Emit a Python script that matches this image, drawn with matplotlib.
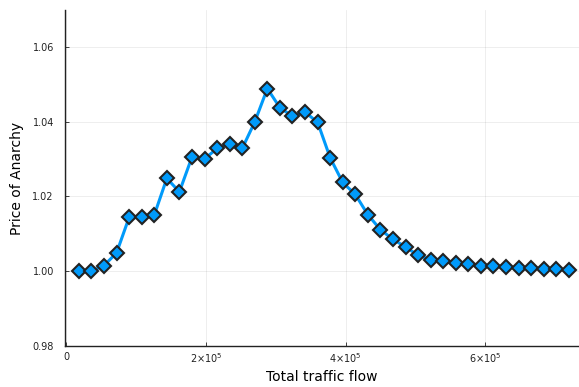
import matplotlib
matplotlib.use("Agg")
import matplotlib.pyplot as plt

# Data
flow = [18000 * k for k in range(1, 41)]
poa = [1.0000, 1.0000, 1.0015, 1.0049, 1.0144, 1.0144, 1.0150, 1.0248, 1.0212, 1.0305,
       1.0300, 1.0328, 1.0341, 1.0328, 1.0399, 1.0488, 1.0437, 1.0414, 1.0425, 1.0398,
       1.0303, 1.0237, 1.0205, 1.0151, 1.0111, 1.0085, 1.0065, 1.0042, 1.0031, 1.0026,
       1.0021, 1.0018, 1.0015, 1.0013, 1.0011, 1.0009, 1.0008, 1.0007, 1.0005, 1.0004]
xticks = [0, 200000, 400000, 600000]
xticklabels = ["0", r"$2{\times}10^{5}$", r"$4{\times}10^{5}$", r"$6{\times}10^{5}$"]
yticks = [0.98, 1.00, 1.02, 1.04, 1.06]
yticklabels = ["0.98", "1.00", "1.02", "1.04", "1.06"]

plt.rcParams['mathtext.fontset'] = 'dejavusans'
fig = plt.figure(figsize=(5.79, 3.87), dpi=100)
ax = fig.add_axes([65/579, 41/387, 514/579, 336/387])

ax.plot(flow, poa, color="#009AFA", lw=2.2, marker="D", ms=7,
        mfc="#009AFA", mec="#222222", mew=1.5, zorder=3)

ax.set_xlim(-1900, 734500)
ax.set_ylim(0.98, 1.0698)
ax.set_xticks(xticks)
ax.set_xticklabels(xticklabels)
ax.set_yticks(yticks)
ax.set_yticklabels(yticklabels)
ax.tick_params(direction="in", length=3, width=0.6, labelsize=7, colors="#222222", pad=4)
ax.tick_params(axis="y", pad=8)
ax.grid(True, color="black", alpha=0.08, lw=0.6)
ax.set_axisbelow(True)
for s in ["top", "right"]:
    ax.spines[s].set_visible(False)
for s in ["left", "bottom"]:
    ax.spines[s].set_color("#222222")
    ax.spines[s].set_linewidth(1.0)

ax.set_xlabel("Total traffic flow", fontsize=10, labelpad=3)
ax.set_ylabel("Price of Anarchy", fontsize=10, labelpad=6)

fig.savefig("out.png", dpi=100)
